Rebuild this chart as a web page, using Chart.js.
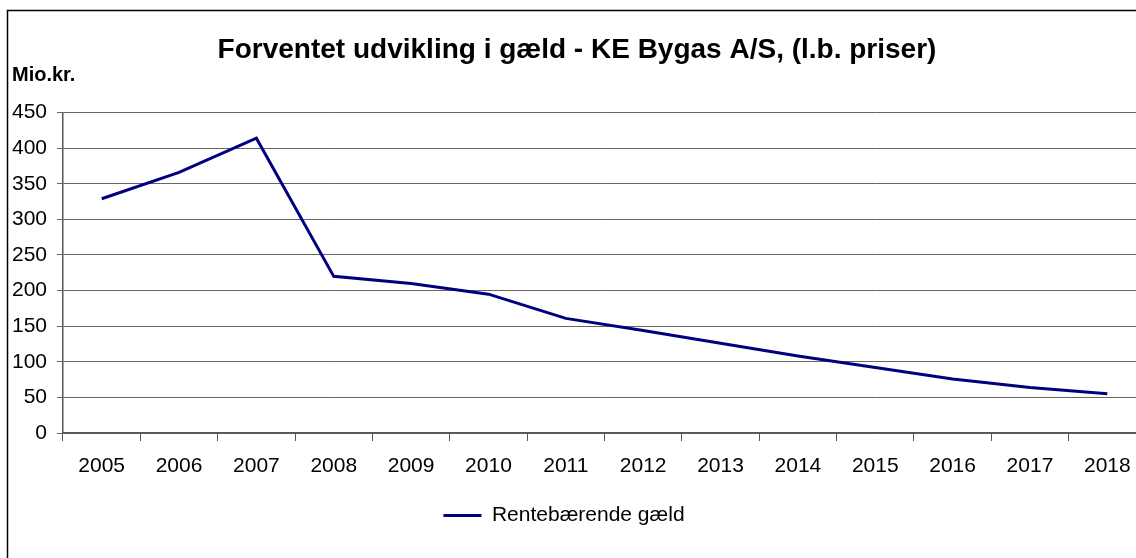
<!DOCTYPE html>
<html>
<head>
<meta charset="utf-8">
<script src="https://cdn.jsdelivr.net/npm/chart.js@4/dist/chart.umd.min.js"></script>
<style>
  html, body { margin: 0; padding: 0; overflow: hidden; background: #fff; }
  #wrap { position: absolute; left: 0; top: 0; width: 1160px; height: 558px; }
</style>
</head>
<body>
<div id="wrap"><canvas id="chart" width="1160" height="558"></canvas></div>
<script>
var years = ['2005', '2006', '2007', '2008', '2009', '2010', '2011',
             '2012', '2013', '2014', '2015', '2016', '2017', '2018'];
var gaeld = [329, 366, 414, 220, 210, 195, 161, 144, 126, 108, 92, 76, 64, 55];
var seriesName = 'Rentebærende gæld';
var titleText = 'Forventet udvikling i gæld - KE Bygas A/S, (l.b. priser)';
var unitText = 'Mio.kr.';

var fontFamily = "'Liberation Sans', Arial, sans-serif";

// frame round the whole chart + the unit label over the y axis
var extras = {
    id: 'extras',
    afterLayout: function (chart) {
        // legend sits a bit left of centre in the original
        chart.legend.left -= 13;
        chart.legend.right -= 13;
        chart.legend.top += 2;
        chart.legend.bottom += 2;
    },
    afterDraw: function (chart) {
        var c = chart.ctx;
        c.save();
        c.strokeStyle = '#000';
        c.lineWidth = 1.5;
        c.strokeRect(7.5, 10.5, 2000, 2000);
        c.fillStyle = '#000';
        c.font = 'bold 20px ' + fontFamily;
        c.textAlign = 'left';
        c.textBaseline = 'alphabetic';
        c.fillText(unitText, 12, 81);
        c.restore();
    }
};

var ctx = document.getElementById('chart').getContext('2d');
var chart = new Chart(ctx, {
    type: 'line',
    data: {
        labels: years,
        datasets: [{
            label: seriesName,
            data: gaeld,
            borderColor: '#000080',
            backgroundColor: '#000080',
            borderWidth: 3,
            pointRadius: 0,
            tension: 0,
            fill: false
        }]
    },
    options: {
        responsive: false,
        animation: false,
        layout: { padding: { left: 8, right: 14, top: 0, bottom: 24 } },
        plugins: {
            title: {
                display: true,
                text: titleText,
                color: '#000',
                font: { family: fontFamily, size: 28, weight: 'bold' },
                padding: { top: 33, bottom: 46 }
            },
            legend: {
                position: 'bottom',
                labels: {
                    color: '#000',
                    font: { family: fontFamily, size: 21 },
                    usePointStyle: true,
                    pointStyle: 'line',
                    pointStyleWidth: 38,
                    padding: 10
                }
            },
            tooltip: { enabled: false }
        },
        scales: {
            x: {
                offset: true,
                afterFit: function (s) { s.height = 60; },
                grid: {
                    offset: true,
                    drawOnChartArea: false,
                    drawTicks: true,
                    tickLength: 8,
                    color: '#555'
                },
                border: { color: '#555', width: 1.5 },
                ticks: {
                    color: '#000',
                    padding: 13,
                    maxRotation: 0,
                    font: { family: fontFamily, size: 21 }
                }
            },
            y: {
                min: 0,
                max: 450,
                afterFit: function (s) { s.width = 55; },
                grid: {
                    color: '#666',
                    tickLength: 6,
                    drawTicks: true
                },
                border: { color: '#555', width: 1.5 },
                ticks: {
                    stepSize: 50,
                    color: '#000',
                    padding: 10,
                    font: { family: fontFamily, size: 21 }
                }
            }
        }
    },
    plugins: [extras]
});
</script>
</body>
</html>
